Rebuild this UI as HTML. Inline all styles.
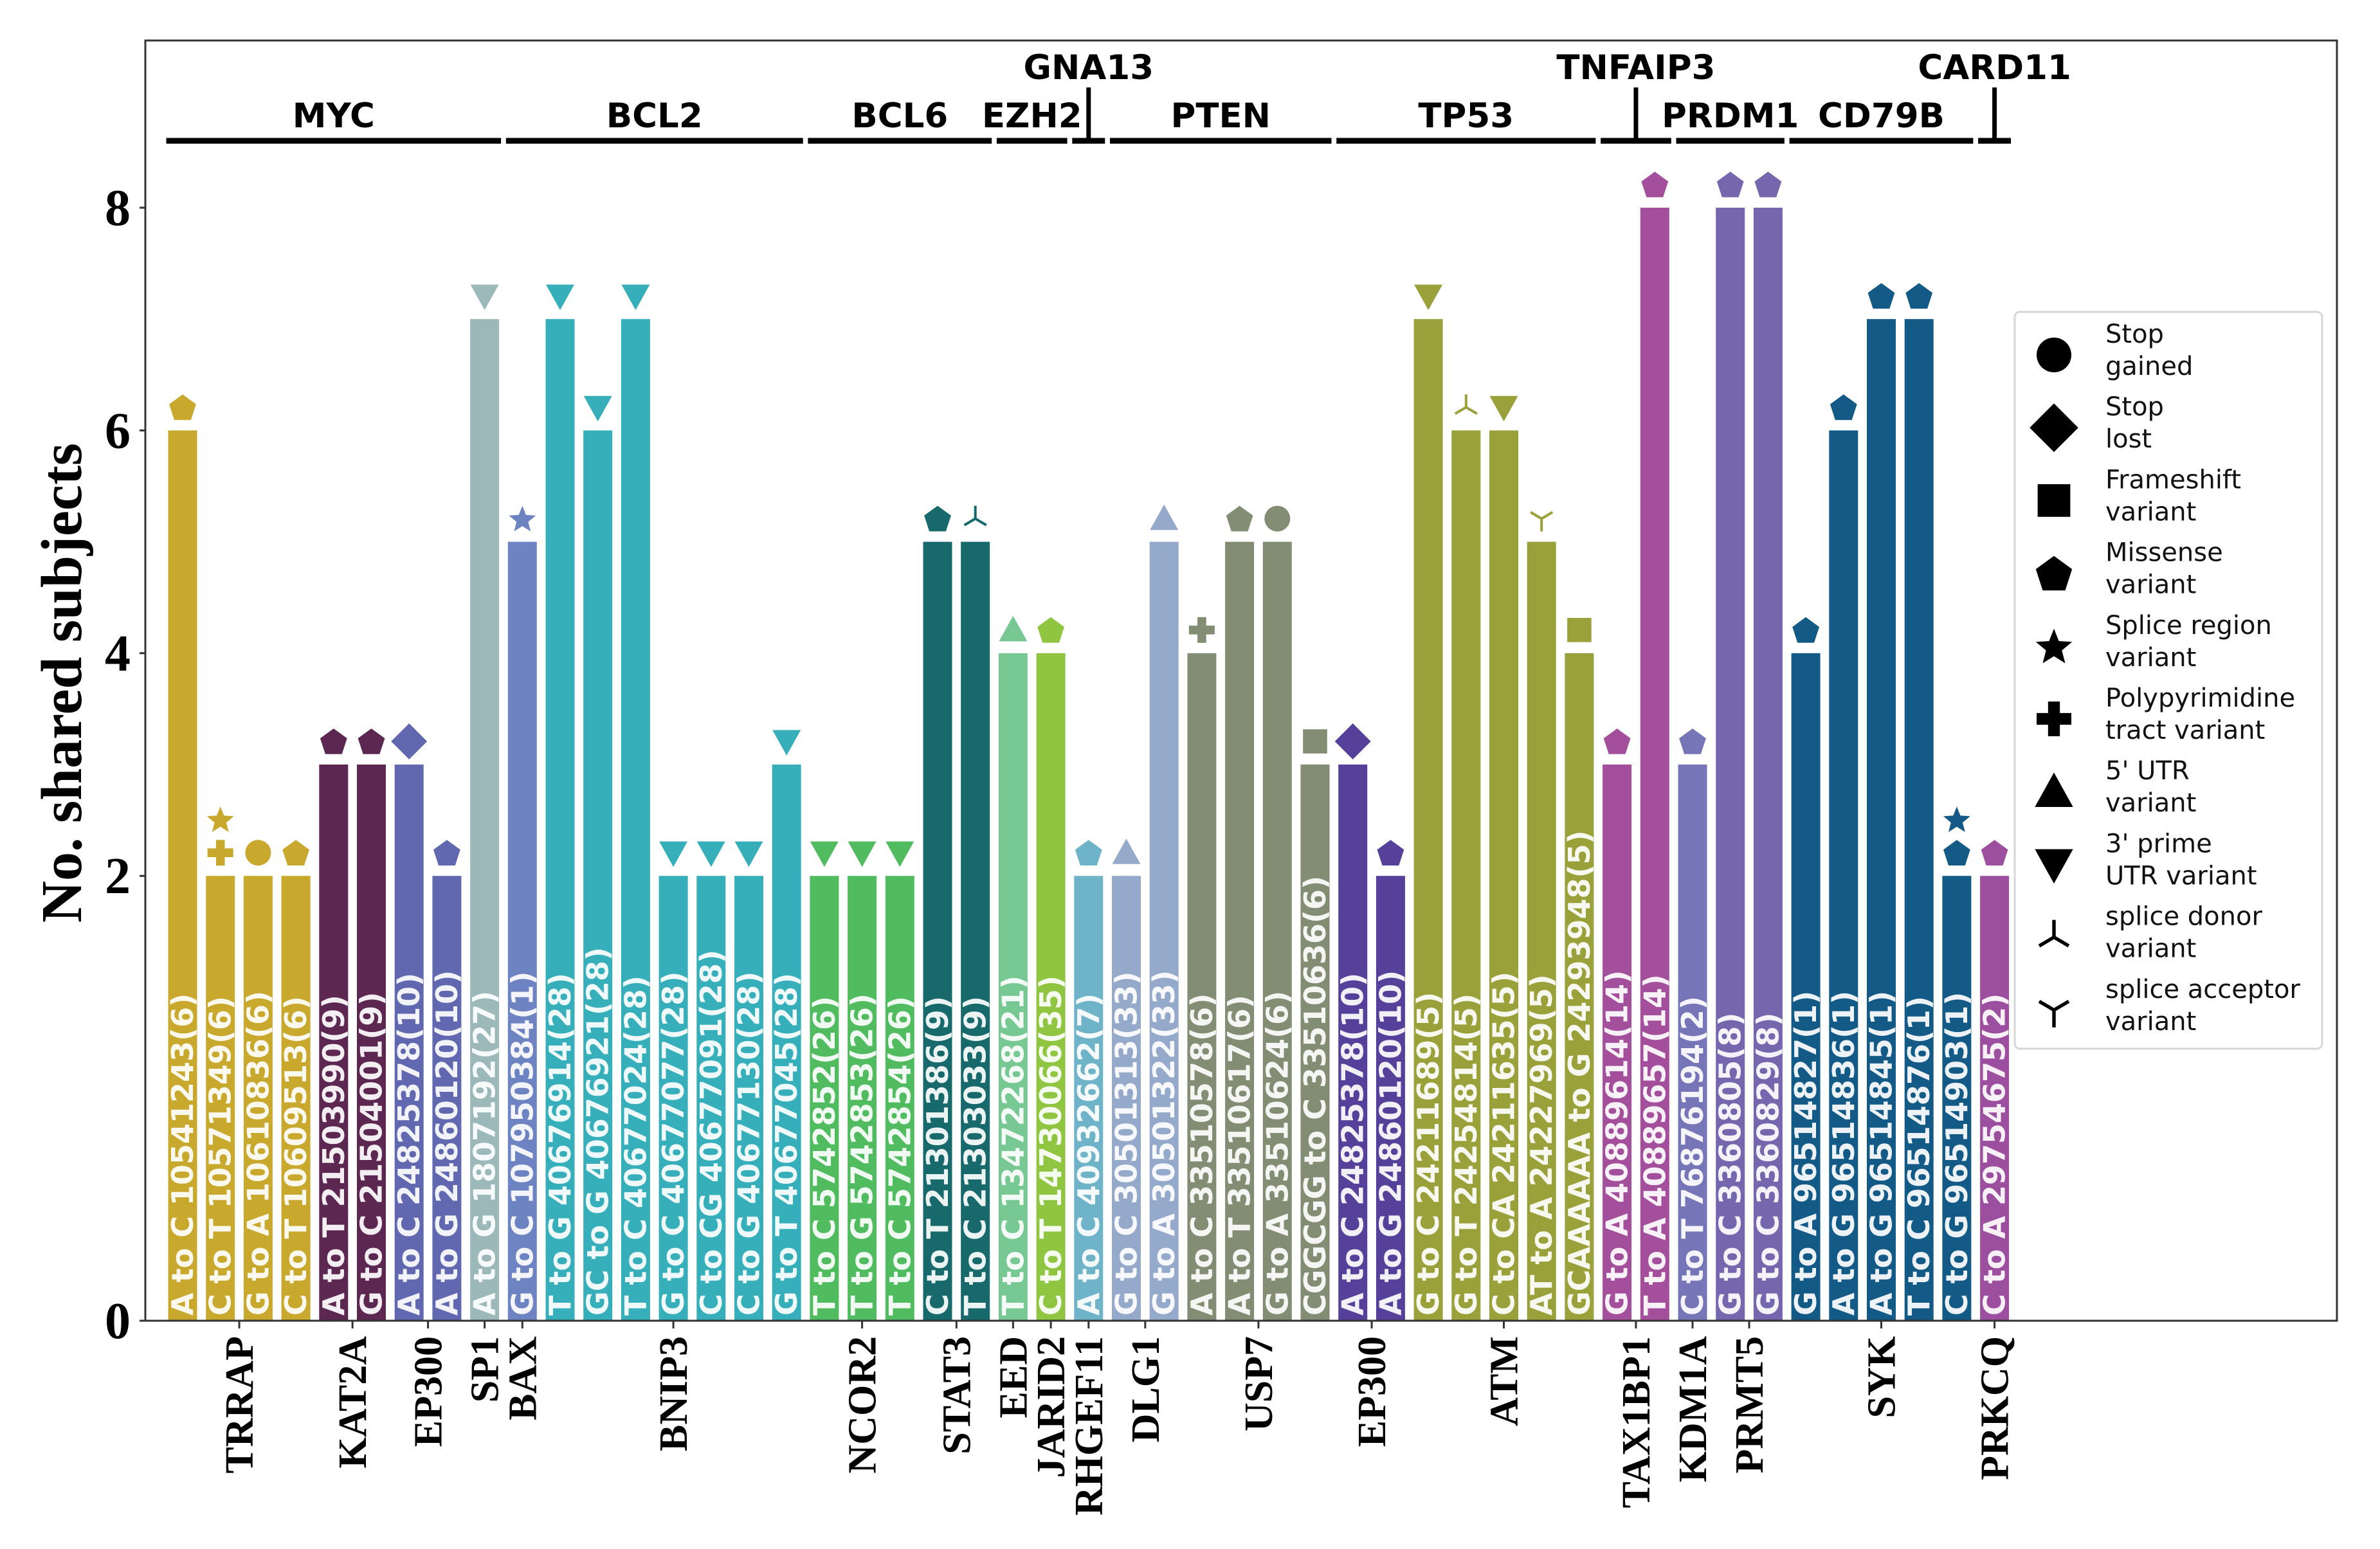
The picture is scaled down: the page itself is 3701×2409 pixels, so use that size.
<!DOCTYPE html>
<html><head><meta charset="utf-8"><style>html,body{margin:0;padding:0;background:#fff}svg{display:block}</style></head>
<body>
<svg id="chart" xmlns="http://www.w3.org/2000/svg" width="3701" height="2409" viewBox="0 0 3701 2409">
<rect x="0" y="0" width="3701" height="2409" fill="#fff"/>
<g id="bars"></g>
<g id="markers"></g>
<g id="groups"></g>
<g id="axes"></g>
<g id="legend"></g>
</svg>
<script>
const labels = ["A to C 10541243(6)","C to T 10571349(6)","G to A 10610836(6)","C to T 10609513(6)","A to T 21503990(9)","G to C 21504001(9)","A to C 24825378(10)","A to G 24860120(10)","A to G 1807192(27)","G to C 107950384(1)","T to G 40676914(28)","GC to G 40676921(28)","T to C 40677024(28)","G to C 40677077(28)","C to CG 40677091(28)","C to G 40677130(28)","G to T 40677045(28)","T to C 5742852(26)","T to G 5742853(26)","T to C 5742854(26)","C to T 21301386(9)","T to C 21303033(9)","T to C 13472268(21)","C to T 14730066(35)","A to C 40932662(7)","G to C 30501313(33)","G to A 30501322(33)","A to C 33510578(6)","A to T 33510617(6)","G to A 33510624(6)","CGGCGG to C 33510636(6)","A to C 24825378(10)","A to G 24860120(10)","G to C 24211689(5)","G to T 24254814(5)","C to CA 24211635(5)","AT to A 24227969(5)","GCAAAAAA to G 24293948(5)","G to A 40889614(14)","T to A 40889657(14)","C to T 76876194(2)","G to C 3360805(8)","G to C 3360829(8)","G to A 96514827(1)","A to G 96514836(1)","A to G 96514845(1)","T to C 96514876(1)","C to G 96514903(1)","C to A 29754675(2)"];
const values = [6,2,2,2,3,3,3,2,7,5,7,6,7,2,2,2,3,2,2,2,5,5,4,4,2,2,5,4,5,5,3,3,2,7,6,6,5,4,3,8,3,8,8,4,6,7,7,2,2];
const genes = ["TRRAP","TRRAP","TRRAP","TRRAP","KAT2A","KAT2A","EP300","EP300","SP1","BAX","BNIP3","BNIP3","BNIP3","BNIP3","BNIP3","BNIP3","BNIP3","NCOR2","NCOR2","NCOR2","STAT3","STAT3","EED","JARID2","RHGEF11","DLG1","DLG1","USP7","USP7","USP7","USP7","EP300b","EP300b","ATM","ATM","ATM","ATM","ATM","TAX1BP1","TAX1BP1","KDM1A","PRMT5","PRMT5","SYK","SYK","SYK","SYK","SYK","PRKCQ"];
const geneColors = {TRRAP:"#c9a82e",KAT2A:"#5c2750",EP300:"#6168b0",SP1:"#9cb8b9",BAX:"#6e84c2",BNIP3:"#36afbb",NCOR2:"#50bb5f",STAT3:"#17696b",EED:"#77c893",JARID2:"#8fc541",RHGEF11:"#6fb3c8",DLG1:"#95a9cb",USP7:"#838d74",EP300b:"#55409a",ATM:"#9ba13a",TAX1BP1:"#a34f9b",KDM1A:"#7575b8",PRMT5:"#7566ae",SYK:"#135a87",PRKCQ:"#9c4f9e"};
const markerTypes = [["pent"],["plus","star"],["circle"],["pent"],["pent"],["pent"],["diamond"],["pent"],["tridown"],["star"],["tridown"],["tridown"],["tridown"],["tridown"],["tridown"],["tridown"],["tridown"],["tridown"],["tridown"],["tridown"],["pent"],["donor"],["triup"],["pent"],["pent"],["triup"],["triup"],["plus"],["pent"],["circle"],["square"],["diamond"],["pent"],["tridown"],["donor"],["tridown"],["acceptor"],["square"],["pent"],["pent"],["pent"],["pent"],["pent"],["pent"],["pent"],["pent"],["pent"],["pent","star"],["pent"]];
const groupNames = ["MYC","BCL2","BCL6","EZH2","GNA13","PTEN","TP53","TNFAIP3","PRDM1","CD79B","CARD11"];
const groupStart = [0,9,17,22,24,25,31,38,40,43,48];
const groupEnd = [8,16,21,23,24,30,37,39,42,47,48];
const groupUpper = [false,false,false,false,true,false,false,true,false,false,true];
const yTicks = [0,2,4,6,8];
const legendLabels = [["Stop","gained"],["Stop","lost"],["Frameshift","variant"],["Missense","variant"],["Splice region","variant"],["Polypyrimidine","tract variant"],["5' UTR","variant"],["3' prime","UTR variant"],["splice donor","variant"],["splice acceptor","variant"]];
const legendTypes = ["circle","diamond","square","pent","star","plus","triup","tridown","donor","acceptor"];

const NS="http://www.w3.org/2000/svg";
const L=226,R=3634,T=63,B=2054;
const xs = i => 284 + 58.7*i;
const ys = v => v===0 ? B : 323 + (8 - v)*173.2;
const BW=45;
function mk(tag, attrs, parent){const e=document.createElementNS(NS,tag);for(const k in attrs)e.setAttribute(k,attrs[k]);parent.appendChild(e);return e;}

function marker(type, cx, cy, s, color, parent){
  let e;
  if(type==="circle"){e=mk("ellipse",{cx:cx,cy:cy,rx:s*0.5,ry:s*0.5,fill:color},parent);}
  else if(type==="diamond"){const h=s*0.7;e=mk("polygon",{points:`${cx},${cy-h} ${cx+h},${cy} ${cx},${cy+h} ${cx-h},${cy}`,fill:color},parent);}
  else if(type==="square"){e=mk("rect",{x:cx-s*0.47,y:cy-s*0.47,width:s*0.94,height:s*0.94,fill:color},parent);}
  else if(type==="pent"){let p=[];for(let k=0;k<5;k++){const a=-Math.PI/2+k*2*Math.PI/5;p.push((cx+s*0.55*Math.cos(a)).toFixed(1)+","+(cy+s*0.55*Math.sin(a)+s*0.05).toFixed(1));}e=mk("polygon",{points:p.join(" "),fill:color},parent);}
  else if(type==="star"){let p=[];for(let k=0;k<10;k++){const a=-Math.PI/2+k*Math.PI/5;const r=k%2?s*0.24:s*0.55;p.push((cx+r*Math.cos(a)).toFixed(1)+","+(cy+r*Math.sin(a)+s*0.05).toFixed(1));}e=mk("polygon",{points:p.join(" "),fill:color},parent);}
  else if(type==="plus"){const a=s*0.5,b=s*0.17;e=mk("path",{d:`M${cx-b},${cy-a}h${2*b}v${a-b}h${a-b}v${2*b}h${-(a-b)}v${a-b}h${-2*b}v${-(a-b)}h${-(a-b)}v${-2*b}h${a-b}z`,fill:color},parent);}
  else if(type==="triup"){const h=s*0.55;e=mk("polygon",{points:`${cx},${cy-h} ${cx+h},${cy+h*0.8} ${cx-h},${cy+h*0.8}`,fill:color},parent);}
  else if(type==="tridown"){const h=s*0.55;e=mk("polygon",{points:`${cx},${cy+h} ${cx+h},${cy-h*0.8} ${cx-h},${cy-h*0.8}`,fill:color},parent);}
  else if(type==="donor"){const h=s*0.5;e=mk("path",{d:`M${cx},${cy}V${cy-h}M${cx},${cy}L${cx-h*0.85},${cy+h*0.5}M${cx},${cy}L${cx+h*0.85},${cy+h*0.5}`,stroke:color,"stroke-width":s*0.1,fill:"none"},parent);}
  else if(type==="acceptor"){const h=s*0.5;e=mk("path",{d:`M${cx},${cy}V${cy+h}M${cx},${cy}L${cx-h*0.85},${cy-h*0.5}M${cx},${cy}L${cx+h*0.85},${cy-h*0.5}`,stroke:color,"stroke-width":s*0.1,fill:"none"},parent);}
  return e;
}

const gBars=document.getElementById("bars"), gMk=document.getElementById("markers");
for(let i=0;i<values.length;i++){
  const c=geneColors[genes[i]], x=xs(i), top=ys(values[i]);
  const r=mk("rect",{x:x-BW/2,y:top,width:BW,height:B-top,fill:c},gBars);
  
  
  const t=mk("text",{x:0,y:0,transform:`translate(${x+16},${B-8}) rotate(-90)`,"font-family":"DejaVu Sans, Liberation Sans, sans-serif","font-weight":"bold","font-size":"46",fill:"#fff","fill-opacity":"0.92"},gBars);
  t.textContent=labels[i];
  
  
  markerTypes[i].forEach((mt,k)=>{
    const m=marker(mt,x,top-36-k*52,40,c,gMk);
    
    
  });
}

// groups
const gG=document.getElementById("groups");
for(let g=0;g<groupNames.length;g++){
  const x0=xs(groupStart[g])-BW/2-3, x1=xs(groupEnd[g])+BW/2+3;
  const ln=mk("line",{x1:x0,x2:x1,y1:219,y2:219,stroke:"#000","stroke-width":9},gG);
  
  
  const cx=(x0+x1)/2;
  if(groupUpper[g]){
    const v=mk("line",{x1:cx,x2:cx,y1:136,y2:219,stroke:"#000","stroke-width":7},gG);
    
    
  }
  const t=mk("text",{x:cx,y:groupUpper[g]?123:198,"text-anchor":"middle","font-family":"DejaVu Sans, Liberation Sans, sans-serif","font-weight":"bold","font-size":"53",fill:"#000"},gG);
  t.textContent=groupNames[g];
  
  
}

// axes
const gA=document.getElementById("axes");
const fr=mk("rect",{x:L,y:T,width:R-L,height:B-T,fill:"none",stroke:"#333","stroke-width":3},gA);


yTicks.forEach(v=>{
  const y=ys(v);
  const tl=mk("line",{x1:L-9,x2:L,y1:y,y2:y,stroke:"#333","stroke-width":3},gA);
  
  
  const t=mk("text",{x:203,y:y+27,"text-anchor":"end","font-family":"Liberation Serif, serif","font-weight":"bold","font-size":"80",fill:"#000"},gA);
  t.textContent=String(v);
  
  
});
const yt=mk("text",{x:0,y:0,transform:"translate(126,1062) rotate(-90)","text-anchor":"middle","font-family":"Liberation Serif, serif","font-weight":"bold","font-size":"90",fill:"#000"},gA);
yt.textContent="No. shared subjects";


// gene ticks
const seen=[];
genes.forEach(g=>{if(!seen.includes(g))seen.push(g);});
seen.forEach(g=>{
  const idx=[];genes.forEach((h,i)=>{if(h===g)idx.push(i);});
  const m=idx.reduce((a,b)=>a+b,0)/idx.length;
  const x=xs(m);
  const tl=mk("line",{x1:x,x2:x,y1:B,y2:B+12,stroke:"#333","stroke-width":3},gA);
  
  
  const t=mk("text",{x:0,y:0,transform:`translate(${x+21},${B+24}) rotate(-90)`,"text-anchor":"end","font-family":"Liberation Serif, serif","font-weight":"bold","font-size":"62",fill:"#000"},gA);
  t.textContent=g.replace(/b$/,"");
  
  
});

// legend
const gL=document.getElementById("legend");
const lb=mk("rect",{x:3133,y:485,width:478,height:1146,rx:8,fill:"#fff","fill-opacity":"0.8",stroke:"#d6d6d6","stroke-width":3},gL);


legendTypes.forEach((lt,k)=>{
  const cy=552+k*113.2;
  const m=marker(lt,3194,cy,54,"#000",gL);
  
  
  const t=mk("text",{x:3274,y:cy-19,"font-family":"DejaVu Sans, Liberation Sans, sans-serif","font-size":"40",fill:"#111"},gL);
  
  
  legendLabels[k].forEach((s,j)=>{const ts=mk("tspan",{x:3274,dy:j?50:0},t);ts.textContent=s;});
});
</script>
</body></html>
